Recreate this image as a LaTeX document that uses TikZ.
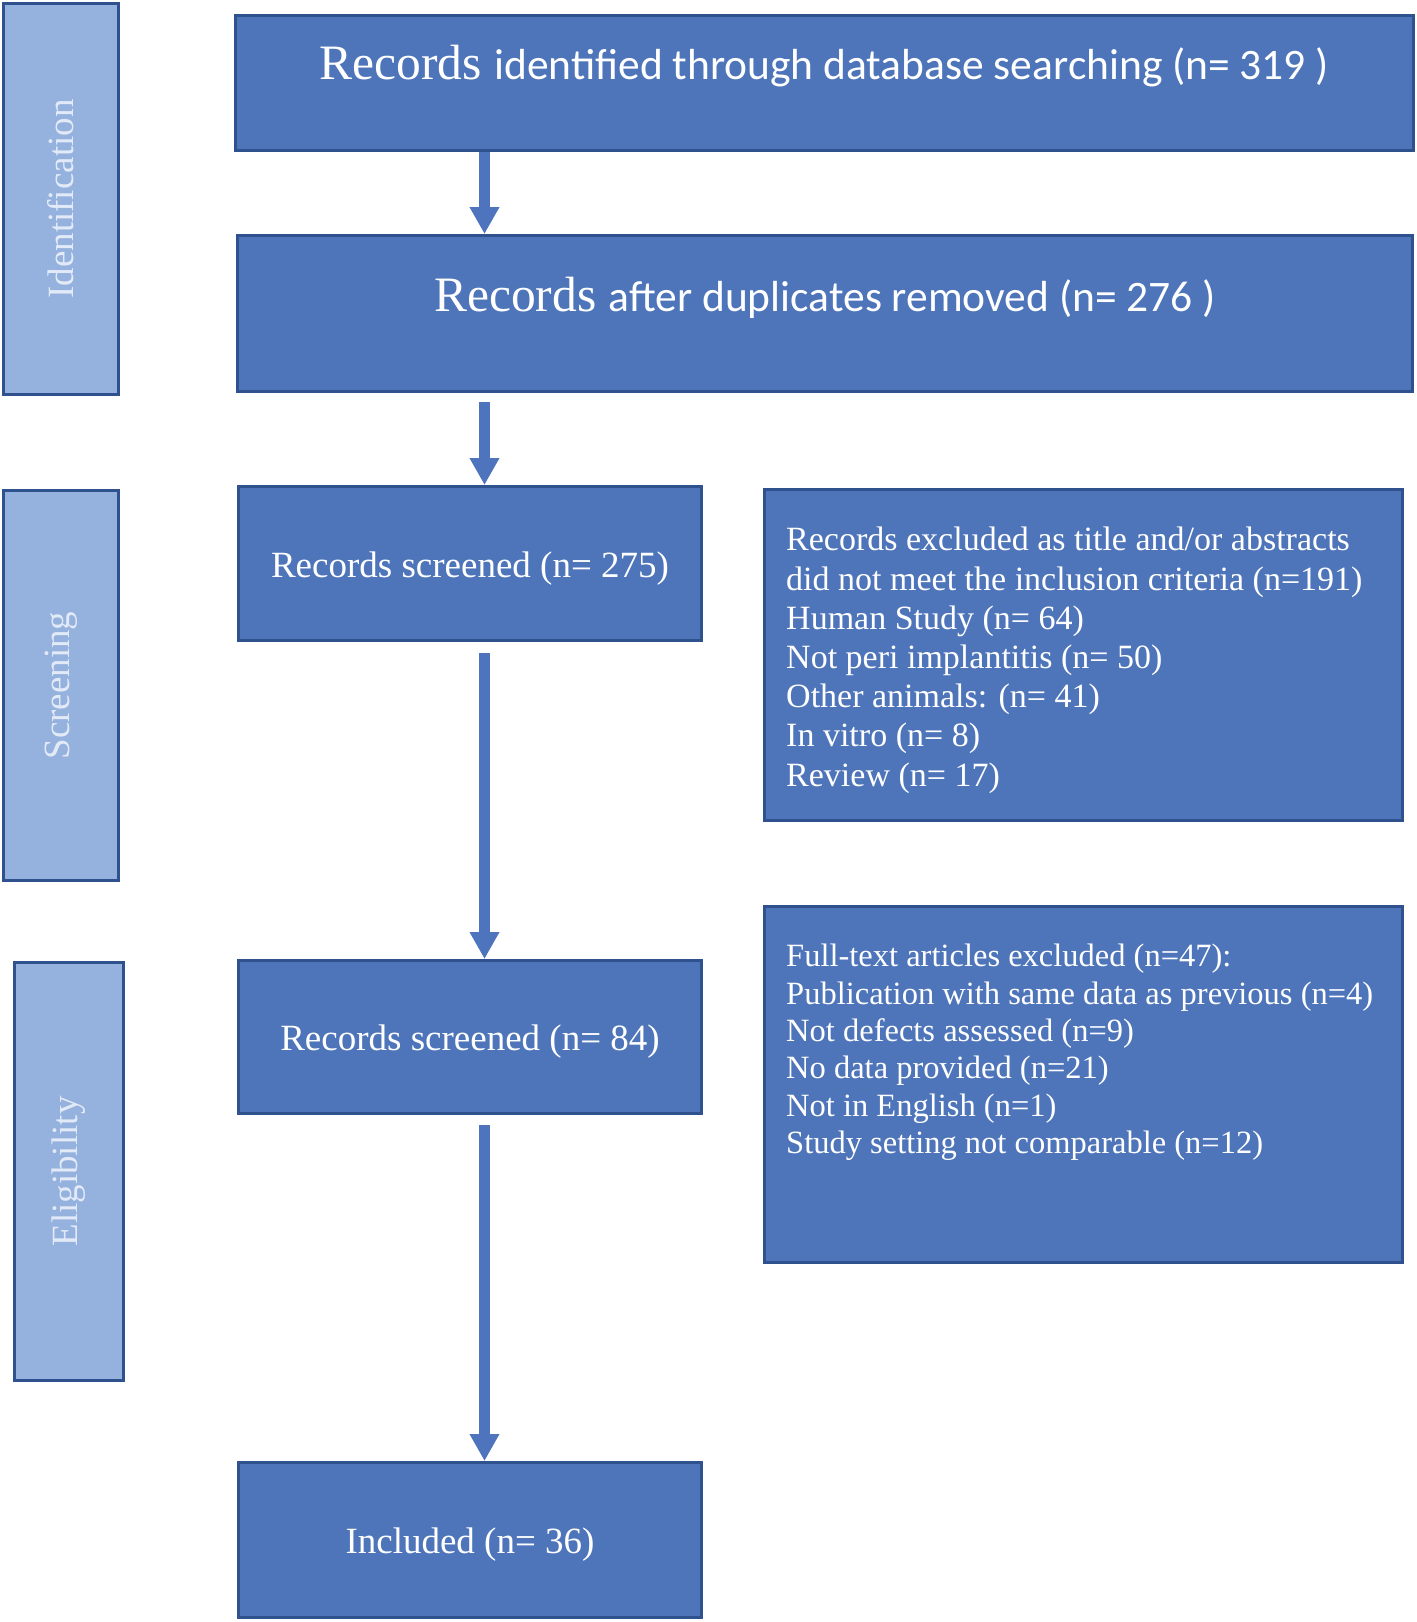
\documentclass[tikz,border=0pt]{standalone}
\usepackage{fontspec}
\setmainfont{Liberation Serif}
\newfontfamily\calibri{Carlito}
\usepackage{tikz}
\usetikzlibrary{arrows.meta}
\definecolor{boxfill}{RGB}{78,117,186}
\definecolor{boxline}{RGB}{47,82,143}
\definecolor{phasefill}{RGB}{149,177,221}
\definecolor{phasetext}{RGB}{226,234,247}
\definecolor{flowblue}{RGB}{79,116,190}
\tikzstyle{flow}=[-{Triangle[length=27pt,width=28pt]},line width=11pt,color=flowblue]

\begin{document}
\begin{tikzpicture}[x=1pt,y=-1pt]
    % caixas do fluxo e das fases
    \tikzstyle{stage}=[draw=boxline,line width=3pt,fill=boxfill,text=white,inner sep=0pt,font=\fontsize{37}{44}\selectfont]
    \tikzstyle{phase}=[draw=boxline,line width=3pt,fill=phasefill,text=phasetext,inner sep=0pt,rotate=90,font=\fontsize{37}{44}\selectfont]
    \tikzstyle{reason}=[text=white,inner sep=0pt,align=left,anchor=north west]
    \tikzstyle{count}=[text height=35pt,text depth=8pt]

    \useasboundingbox (0,0) rectangle (1416,1622);
    \coordinate (axis) at (484.5,0);

    % fases
    \node[phase,minimum width=391pt,minimum height=115pt] (ident) at (61,199) {Identification};
    \node[phase,minimum width=390pt,minimum height=115pt] (screening) at (61,685.5) {Screening};
    \node[phase,minimum width=418pt,minimum height=109pt] (eligible) at (69,1171.5) {Eligibility};

    % caminho principal
    \node[stage,minimum width=1178pt,minimum height=135pt,text height=30pt,text depth=38pt] (search) at (824.5,83)
        {{\fontsize{49.5}{58}\selectfont Records }{\calibri\fontsize{43.5}{52}\selectfont identified through database searching (n= 319 )}};
    \node[stage,minimum width=1175pt,minimum height=156pt,text height=30pt,text depth=35pt] (dedup) at (825,313.5)
        {{\fontsize{49.5}{58}\selectfont Records }{\calibri\fontsize{43.5}{52}\selectfont after duplicates removed (n= 276 )}};
    \node[stage,count,minimum width=463pt,minimum height=154pt] (screen) at (470,563.5) {Records screened (n= 275)};
    \node[stage,count,minimum width=463pt,minimum height=153pt] (full) at (470,1037) {Records screened (n= 84)};
    \node[stage,count,minimum width=463pt,minimum height=155pt] (incl) at (470,1540) {Included (n= 36)};

    % exclusoes
    \node[stage,minimum width=638pt,minimum height=331pt] (excl1) at (1083.5,655) {};
    \node[reason,font=\fontsize{34}{39.2}\selectfont] (excl1txt) at (786,527)
        {Records excluded as title and/or abstracts\\did not meet the inclusion criteria (n=191)\\Human Study (n= 64)\\Not peri implantitis (n= 50)\\Other animals: (n= 41)\\In vitro (n= 8)\\Review (n= 17)};
    \node[stage,minimum width=638pt,minimum height=356pt] (excl2) at (1083.5,1084.5) {};
    \node[reason,font=\fontsize{32.5}{37.4}\selectfont] (excl2txt) at (786,944)
        {Full-text articles excluded (n=47):\\Publication with same data as previous (n=4)\\Not defects assessed (n=9)\\No data provided (n=21)\\Not in English (n=1)\\Study setting not comparable (n=12)};

    \draw[flow] (search.south -| axis) -- (dedup.north -| axis);
    \draw[flow,shorten <=9pt] (dedup.south -| axis) -- (screen.north -| axis);
    \draw[flow,shorten <=11pt] (screen.south -| axis) -- (full.north -| axis);
    \draw[flow,shorten <=10pt] (full.south -| axis) -- (incl.north -| axis);
\end{tikzpicture}
\end{document}
